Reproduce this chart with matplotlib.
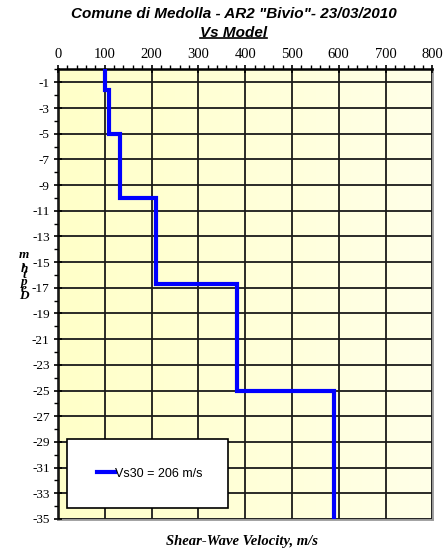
import matplotlib.pyplot as plt
import numpy as np
from matplotlib.patches import Rectangle
from matplotlib.lines import Line2D
from matplotlib.colors import LinearSegmentedColormap

# layered Vs model (m/s) and layer bottoms (m)
velocity = [100, 110, 133, 209, 383, 590]
layer_top = [0, 1.6, 5, 10, 16.7, 25]
layer_bottom = [1.6, 5, 10, 16.7, 25, 35]
vs30 = 206

x_ticks = [0, 100, 200, 300, 400, 500, 600, 700, 800]
y_ticks = list(range(-1, -36, -2))

# build step profile
xs, ys = [], []
for v, t, b in zip(velocity, layer_top, layer_bottom):
    xs += [v, v]
    ys += [-t, -b]

fig = plt.figure(figsize=(4.46, 5.51), dpi=100)
ax = fig.add_axes([0.130, 0.0581, 0.8393, 0.8158])

# yellowish gradient background
grad = np.linspace(0, 1, 256).reshape(1, -1)
cmap = LinearSegmentedColormap.from_list('bg', ['#ffffc8', '#ffffe8'])
ax.imshow(grad, extent=[0, 800, -35, 0], aspect='auto', cmap=cmap, zorder=0)

ax.set_xlim(0, 800)
ax.set_ylim(-35, 0)
ax.xaxis.tick_top()
ax.set_xticks(x_ticks)
ax.set_xticks(np.arange(0, 801, 20), minor=True)
ax.set_yticks(y_ticks)
ax.set_yticks(range(0, -36, -2), minor=True)
ax.set_yticklabels([str(t) for t in y_ticks])
ax.tick_params(axis='both', which='major', direction='inout', length=6, width=1.2, pad=3)
ax.tick_params(axis='both', which='minor', direction='out', length=3, width=1)
ax.tick_params(axis='x', which='major', labelsize=10.5, pad=3)
ax.tick_params(axis='y', which='major', labelsize=9.5)
for lab in ax.get_xticklabels() + ax.get_yticklabels():
    lab.set_fontfamily('Liberation Serif')

ax.grid(True, which='major', color='#1a1a1a', linewidth=1.3, zorder=1)
ax.set_axisbelow(False)

ax.spines['left'].set_linewidth(1.8)
ax.spines['top'].set_linewidth(1.8)
ax.spines['right'].set_color('#999999')
ax.spines['bottom'].set_color('#999999')
ax.spines['right'].set_linewidth(2)
ax.spines['bottom'].set_linewidth(2)

ax.plot(xs, ys, color='#0000ff', linewidth=3, solid_joinstyle='miter', zorder=3,
        label='Vs30 = %d m/s' % vs30)

# legend box
box = Rectangle((0.023, 0.024), 0.432, 0.153, transform=ax.transAxes,
                facecolor='white', edgecolor='black', linewidth=1.2, zorder=4)
ax.add_patch(box)
leg = ax.legend(loc='center', bbox_to_anchor=(0.245, 0.1005), frameon=False,
                handlelength=1.4, handletextpad=0.0,
                prop={'family': 'Liberation Sans', 'size': 9})
leg.set_zorder(5)

# titles
fig.text(0.524, 0.974, 'Comune di Medolla - AR2 "Bivio"- 23/03/2010', ha='center', va='center',
         fontsize=11, fontweight='bold', fontstyle='italic', family='Liberation Sans')
sub = fig.text(0.524, 0.941, 'Vs Model', ha='center', va='center',
               fontsize=11, fontweight='bold', fontstyle='italic', family='Liberation Sans')
fig.canvas.draw()
bb = sub.get_window_extent().transformed(fig.transFigure.inverted())
fig.add_artist(Line2D([bb.x0, bb.x1], [bb.y0 + 0.002, bb.y0 + 0.002], color='black',
                      linewidth=1.2, transform=fig.transFigure))

fig.text(0.543, 0.017, 'Shear-Wave Velocity, m/s', ha='center', va='center',
         fontsize=10.5, fontweight='bold', fontstyle='italic', family='Liberation Serif')
fig.text(0.054, 0.5, 'm\n,\nh\nt\np\ne\nD', ha='center', va='center', linespacing=0.42,
         fontsize=9.5, fontweight='bold', fontstyle='italic', family='Liberation Serif')

fig.savefig('out.png', dpi=100)
